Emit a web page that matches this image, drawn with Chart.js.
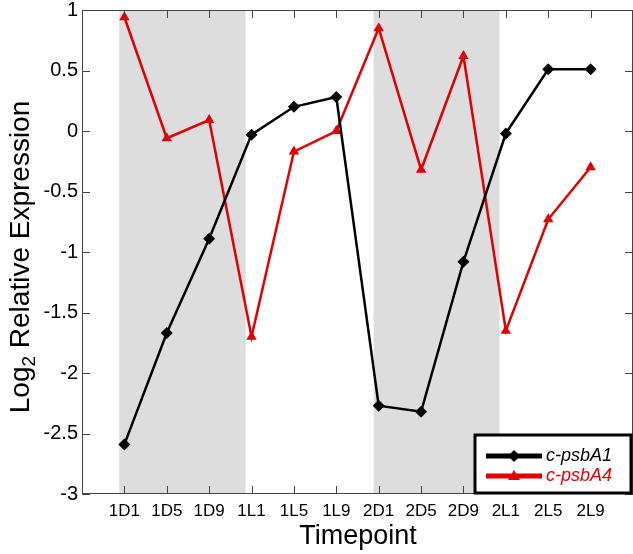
<!DOCTYPE html>
<html>
<head>
<meta charset="utf-8">
<script src="https://cdn.jsdelivr.net/npm/chart.js@4.4.1/dist/chart.umd.min.js"></script>
<style>
  html, body { margin: 0; padding: 0; background: #fff; }
  canvas { display: block; }
</style>
</head>
<body>
<canvas id="chart" width="633" height="554"></canvas>
<script>
const categories = ['1D1', '1D5', '1D9', '1L1', '1L5', '1L9', '2D1', '2D5', '2D9', '2L1', '2L5', '2L9'];
const psbA1 = [-2.59, -1.67, -0.89, -0.03, 0.20, 0.28, -2.27, -2.32, -1.08, -0.02, 0.51, 0.51];
const psbA4 = [0.94, -0.06, 0.09, -1.70, -0.17, 0.00, 0.85, -0.32, 0.62, -1.65, -0.73, -0.30];
const yTicks = [1, 0.5, 0, -0.5, -1, -1.5, -2, -2.5, -3];
// shaded dark periods, in category-index units
const darkPeriods = [[-0.12, 2.86], [5.88, 8.85]];
const seriesNames = ['c-psbA1', 'c-psbA4'];

const RED = '#e00000';
const FONT = '"Liberation Sans", Arial, sans-serif';

const toPoints = values => values.map((v, i) => ({ x: i, y: v }));

const decor = {
  id: 'decor',
  beforeDatasetsDraw(chart) {
    const { ctx, chartArea: a, scales: { x } } = chart;
    ctx.save();
    ctx.fillStyle = '#dddddd';
    darkPeriods.forEach(([s, e]) => {
      const x0 = x.getPixelForValue(s);
      const x1 = x.getPixelForValue(e);
      ctx.fillRect(x0, a.top, x1 - x0, a.bottom - a.top);
    });
    ctx.restore();
  },
  afterDatasetsDraw(chart) {
    const { ctx, chartArea: a, scales: { x, y } } = chart;
    ctx.save();
    // axes box
    ctx.strokeStyle = '#444';
    ctx.lineWidth = 1;
    ctx.strokeRect(a.left + 0.5, a.top + 0.5, a.right - a.left - 1, a.bottom - a.top - 1);
    // inward ticks
    const len = 8;
    ctx.beginPath();
    x.ticks.forEach(t => {
      const px = Math.round(x.getPixelForValue(t.value)) + 0.5;
      ctx.moveTo(px, a.bottom); ctx.lineTo(px, a.bottom - len);
      ctx.moveTo(px, a.top); ctx.lineTo(px, a.top + len);
    });
    y.ticks.forEach(t => {
      const py = Math.round(y.getPixelForValue(t.value)) + 0.5;
      ctx.moveTo(a.left, py); ctx.lineTo(a.left + len, py);
      ctx.moveTo(a.right, py); ctx.lineTo(a.right - len, py);
    });
    ctx.stroke();

    // legend
    const lx = 475, ly = 435, lw = 156, lh = 58;
    ctx.fillStyle = '#fff';
    ctx.fillRect(lx, ly, lw, lh);
    ctx.strokeStyle = '#000';
    ctx.lineWidth = 3;
    ctx.strokeRect(lx, ly, lw, lh);
    const rows = [
      { name: seriesNames[0], color: '#000', yy: 456, marker: 'diamond' },
      { name: seriesNames[1], color: RED, yy: 476, marker: 'tri' }
    ];
    rows.forEach(r => {
      ctx.strokeStyle = r.color;
      ctx.fillStyle = r.color;
      ctx.lineWidth = 5;
      ctx.beginPath();
      ctx.moveTo(486, r.yy); ctx.lineTo(542, r.yy);
      ctx.stroke();
      ctx.beginPath();
      if (r.marker === 'diamond') {
        ctx.moveTo(514, r.yy - 6); ctx.lineTo(520, r.yy); ctx.lineTo(514, r.yy + 6); ctx.lineTo(508, r.yy);
      } else {
        ctx.moveTo(514, r.yy - 6); ctx.lineTo(520, r.yy + 4); ctx.lineTo(508, r.yy + 4);
      }
      ctx.closePath();
      ctx.fill();
      ctx.font = 'italic 18px ' + FONT;
      ctx.textBaseline = 'middle';
      ctx.textAlign = 'left';
      ctx.fillText(r.name, 546, r.yy);
    });

    // axis titles
    ctx.fillStyle = '#000';
    ctx.textBaseline = 'alphabetic';
    ctx.font = '27px ' + FONT;
    ctx.textAlign = 'center';
    ctx.fillText('Timepoint', 358, 544);

    ctx.translate(29, (a.top + a.bottom) / 2 + 5);
    ctx.rotate(-Math.PI / 2);
    const big = '28px ' + FONT, small = '19px ' + FONT;
    ctx.font = big;
    const w1 = ctx.measureText('Log').width;
    const w3 = ctx.measureText(' Relative Expression').width;
    ctx.font = small;
    const w2 = ctx.measureText('2').width;
    let cx = -(w1 + w2 + w3) / 2;
    ctx.textAlign = 'left';
    ctx.font = big;
    ctx.fillText('Log', cx, 0);
    cx += w1;
    ctx.font = small;
    ctx.fillText('2', cx, 6);
    cx += w2;
    ctx.font = big;
    ctx.fillText(' Relative Expression', cx, 0);
    ctx.restore();
  }
};

new Chart(document.getElementById('chart'), {
  type: 'line',
  data: {
    datasets: [
      {
        label: seriesNames[0],
        data: toPoints(psbA1),
        borderColor: '#000',
        backgroundColor: '#000',
        borderWidth: 2.5,
        pointStyle: 'rectRot',
        pointRadius: 6,
        pointBorderWidth: 0,
        tension: 0
      },
      {
        label: seriesNames[1],
        data: toPoints(psbA4),
        borderColor: RED,
        backgroundColor: RED,
        borderWidth: 2.5,
        pointStyle: 'triangle',
        pointRadius: 6,
        pointBorderWidth: 0,
        tension: 0
      }
    ]
  },
  options: {
    responsive: false,
    animation: false,
    devicePixelRatio: 1,
    layout: { autoPadding: false, padding: { left: 0, right: 0, top: 10, bottom: 0 } },
    plugins: { legend: { display: false }, tooltip: { enabled: false } },
    scales: {
      x: {
        type: 'linear',
        min: -1,
        max: 12,
        afterBuildTicks: scale => { scale.ticks = categories.map((c, i) => ({ value: i })); },
        afterFit: scale => {
          scale.height = 60;
          scale.paddingLeft = 0;
          scale.paddingRight = 0;
        },
        grid: { display: false, drawTicks: false },
        border: { display: false },
        ticks: {
          autoSkip: false,
          maxRotation: 0,
          padding: 7,
          color: '#000',
          font: { family: FONT, size: 17 },
          callback: v => categories[v]
        }
      },
      y: {
        min: -3,
        max: 1,
        afterBuildTicks: scale => { scale.ticks = yTicks.map(v => ({ value: v })); },
        afterFit: scale => {
          scale.width = 82;
          scale.paddingTop = 0;
          scale.paddingBottom = 0;
        },
        grid: { display: false, drawTicks: false },
        border: { display: false },
        ticks: {
          padding: 4,
          color: '#000',
          font: { family: FONT, size: 20 },
          callback: v => String(v)
        }
      }
    }
  },
  plugins: [decor]
});
</script>
</body>
</html>
